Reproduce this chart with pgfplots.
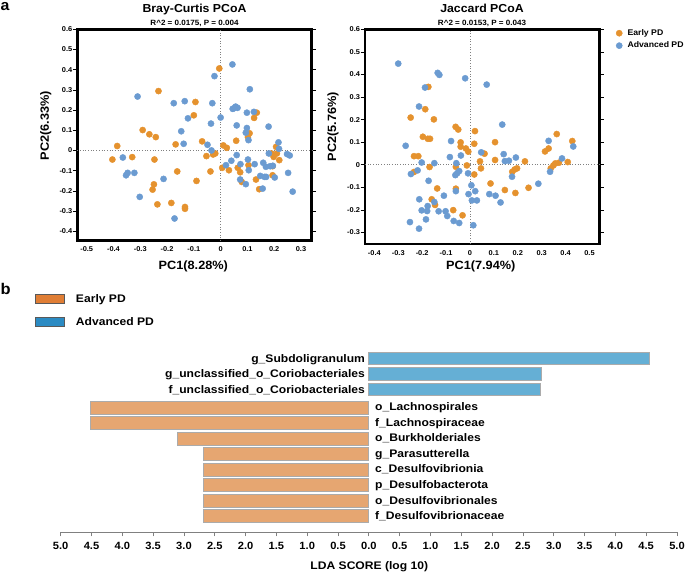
\documentclass[border=0pt]{standalone}
\usepackage{fontspec}
\setmainfont{Liberation Sans}[FakeStretch=1.06]
\newfontfamily\wideb{Liberation Sans}[FakeStretch=1.1]
\usepackage{pgfplots}
\pgfplotsset{compat=1.18}

\definecolor{ptOrange}{HTML}{E5922E}
\definecolor{ptBlue}{HTML}{6B9BD1}
\definecolor{barOrange}{HTML}{E6A671}
\definecolor{barBlue}{HTML}{65AFD5}
\definecolor{barEdge}{HTML}{ABABAB}
\definecolor{legOrange}{HTML}{E07E35}
\definecolor{legBlue}{HTML}{2B8BC3}

\newcommand\fs[1]{\fontsize{#1}{#1}\selectfont\bfseries}

\pgfplotsset{
  pcoa/.style={
    scale only axis, anchor=south west,
    axis line style={line width=2.6bp, black},
    tick align=outside, major tick length=4.5bp,
    xtick style={draw=none},
    ytick style={black, line width=0.6bp},
    tick label style={font=\fs{7bp}},
    xticklabel style={inner ysep=0pt, yshift=-1.5bp},
    yticklabel style={inner xsep=0.3bp},
    label style={font=\fs{12bp}},
    ylabel style={anchor=center},
    xlabel style={anchor=center},
    clip=false,
  },
  dots/.style={only marks, mark=*, mark size=3.1bp, color=#1,
    mark options={draw=#1, fill=#1}},
}

\begin{document}
\begin{tikzpicture}
\path[use as bounding box] (0bp,0bp) rectangle (685bp,574bp);

% ---- a: Bray-Curtis
\begin{axis}[pcoa,
  at={(77.3bp,333.3bp)}, width=234.4bp, height=211.4bp,
  xmin=-0.535, xmax=0.340, ymin=-0.447, ymax=0.6,
  xtick={-0.5,-0.4,-0.3,-0.2,-0.1,0,0.1,0.2,0.3},
  xticklabels={-0.5,-0.4,-0.3,-0.2,-0.1,0,0.1,0.2,0.3},
  ytick={-0.4,-0.3,-0.2,-0.1,0,0.1,0.2,0.3,0.4,0.5,0.6},
  yticklabels={-0.4,-0.3,-0.2,-0.1,0,0.1,0.2,0.3,0.4,0.5,0.6},
  xlabel={PC1(8.28\%)}, ylabel={PC2(6.33\%)},
  xlabel style={at={(axis description cs:0.495,-0.123)}},
  ylabel style={at={(axis description cs:-0.134,0.5435)}},
]
\addplot[forget plot, gray, dotted, line width=0.7bp] coordinates {(0,-0.447) (0,0.6)};
\addplot[forget plot, gray, dotted, line width=0.7bp] coordinates {(-0.535,0) (0.340,0)};
\addplot[dots=ptOrange] coordinates {
(-0.005,0.406) (-0.232,0.294) (-0.094,0.240) (-0.100,0.174) (0.135,0.187) (0.125,0.161)
(-0.291,0.101) (-0.266,0.080) (-0.242,0.066) (0.108,0.085) (0.102,0.066) (-0.386,0.022)
(-0.168,0.030) (-0.069,0.045) (0.058,0.048) (0.010,0.025) (0.023,0.013) (0.207,0.018)
(-0.404,-0.045) (-0.330,-0.033) (-0.247,-0.045) (-0.053,-0.028) (-0.028,-0.020) (-0.020,-0.015)
(0.190,-0.015) (0.210,-0.015) (0.198,-0.032) (0.219,-0.048) (0.104,-0.073) (0.006,-0.086)
(0.031,-0.098) (0.064,-0.086) (0.073,-0.108) (0.194,-0.078) (-0.162,-0.104) (-0.038,-0.104)
(-0.090,-0.151) (0.079,-0.156) (0.132,-0.144) (0.194,-0.123) (-0.249,-0.168) (-0.254,-0.194)
(0.144,-0.192) (-0.236,-0.267) (-0.184,-0.260) (-0.133,-0.280) (-0.133,-0.289)
};
\addplot[dots=ptBlue] coordinates {
(0.044,0.426) (-0.023,0.368) (0.109,0.303) (-0.310,0.267) (-0.175,0.234) (-0.134,0.244)
(-0.031,0.234) (0.045,0.206) (0.056,0.217) (0.063,0.211) (0.050,0.209) (0.098,0.187)
(0.124,0.191) (-0.122,0.159) (0.000,0.163) (-0.036,0.133) (0.060,0.124) (0.098,0.111)
(0.179,0.118) (-0.147,0.095) (0.094,0.088) (0.104,0.051) (-0.138,0.033) (-0.049,0.028)
(0.216,0.040) (0.218,0.008) (-0.034,0.000) (0.180,-0.015) (0.248,-0.018) (0.258,-0.025)
(0.060,-0.023) (-0.365,-0.035) (0.040,-0.051) (0.102,-0.045) (0.020,-0.073) (0.074,-0.068)
(0.127,-0.068) (0.159,-0.061) (0.169,-0.081) (0.185,-0.078) (0.195,-0.076) (0.105,-0.098)
(-0.353,-0.123) (-0.347,-0.111) (-0.322,-0.111) (0.252,-0.111) (0.148,-0.126) (0.164,-0.131)
(0.170,-0.131) (0.202,-0.134) (0.073,-0.144) (0.094,-0.167) (-0.213,-0.141) (0.157,-0.189)
(0.269,-0.204) (-0.302,-0.230) (-0.172,-0.337)
};
\end{axis}

% ---- a: Jaccard
\begin{axis}[pcoa,
  at={(365bp,330bp)}, width=234.3bp, height=214.7bp,
  xmin=-0.439, xmax=0.541, ymin=-0.351, ymax=0.6,
  xtick={-0.4,-0.3,-0.2,-0.1,0,0.1,0.2,0.3,0.4,0.5},
  xticklabels={-0.4,-0.3,-0.2,-0.1,0,0.1,0.2,0.3,0.4,0.5},
  ytick={-0.3,-0.2,-0.1,0,0.1,0.2,0.3,0.4,0.5,0.6},
  yticklabels={-0.3,-0.2,-0.1,0,0.1,0.2,0.3,0.4,0.5,0.6},
  xlabel={PC1(7.94\%)}, ylabel={PC2(5.76\%)},
  xlabel style={at={(axis description cs:0.494,-0.106)}},
  ylabel style={at={(axis description cs:-0.1366,0.546)}},
  legend style={at={(1.071,1.0)}, anchor=north west, draw=none, fill=none,
    inner sep=0pt, font=\fs{8.2bp}, row sep=5bp,
    nodes={inner sep=0pt},
    /tikz/every odd column/.append style={column sep=5.2bp}},
  legend cell align=left,
  legend image code/.code={\draw[#1] plot coordinates {(0bp,0bp)};},
]
\addplot[forget plot, gray, dotted, line width=0.7bp] coordinates {(0,-0.351) (0,0.6)};
\addplot[forget plot, gray, dotted, line width=0.7bp] coordinates {(-0.439,0) (0.541,0)};
\addplot[dots=ptOrange] coordinates {
(-0.174,0.345) (-0.187,0.246) (-0.248,0.209) (-0.151,0.201) (-0.060,0.168) (-0.049,0.156)
(0.021,0.149) (-0.197,0.124) (-0.176,0.115) (-0.167,0.115) (-0.039,0.099) (0.018,0.093)
(0.105,0.100) (0.363,0.136) (0.428,0.105) (-0.039,0.080) (-0.017,0.072) (-0.007,0.058)
(0.314,0.059) (0.329,0.072) (-0.234,0.038) (-0.216,0.038) (0.061,0.049) (0.105,0.021)
(0.042,0.015) (0.230,0.015) (0.409,0.012) (0.357,0.006) (0.372,0.009) (0.349,-0.003)
(-0.169,-0.010) (-0.059,-0.009) (-0.013,-0.003) (0.046,-0.016) (0.338,-0.016) (-0.234,-0.032)
(0.177,-0.031) (0.187,-0.021) (0.197,-0.016) (0.018,-0.043) (0.086,-0.083) (-0.137,-0.105)
(-0.059,-0.106) (0.146,-0.112) (0.245,-0.102) (0.190,-0.125) (-0.160,-0.153) (-0.146,-0.178)
(-0.070,-0.201) (-0.031,-0.224)
};
\addlegendentry{Early PD}
\addplot[dots=ptBlue] coordinates {
(-0.300,0.448) (-0.135,0.407) (-0.128,0.398) (-0.020,0.383) (0.070,0.355) (-0.188,0.342)
(-0.213,0.258) (0.135,0.178) (-0.269,0.084) (-0.079,0.105) (0.329,0.106) (0.432,0.081)
(0.047,0.055) (0.141,0.047) (-0.084,0.034) (-0.038,0.041) (0.192,0.032) (0.385,0.028)
(-0.202,0.010) (-0.149,0.007) (-0.057,0.007) (0.146,0.016) (0.163,0.018) (-0.247,-0.041)
(-0.219,-0.025) (-0.061,-0.046) (-0.053,-0.037) (-0.045,-0.028) (-0.008,-0.038) (0.335,-0.031)
(0.176,-0.053) (-0.173,-0.071) (0.006,-0.091) (0.286,-0.084) (-0.059,-0.117) (0.022,-0.117)
(-0.109,-0.137) (-0.006,-0.130) (0.081,-0.130) (0.107,-0.137) (-0.212,-0.153) (-0.149,-0.165)
(0.008,-0.158) (0.029,-0.158) (0.128,-0.167) (-0.177,-0.183) (-0.202,-0.202) (-0.179,-0.205)
(-0.131,-0.206) (-0.102,-0.206) (-0.095,-0.227) (-0.184,-0.242) (-0.251,-0.254) (-0.068,-0.249)
(-0.045,-0.258) (0.014,-0.268) (-0.213,-0.283)
};
\addlegendentry{Advanced PD}
\end{axis}

% ---- titles and panel letters
\node[anchor=base west, inner sep=0pt, font=\fs{15bp}] at (0.5bp,563bp) {a};
\node[anchor=base west, inner sep=0pt, font=\fs{15.5bp}] at (0.5bp,279bp) {b};
\node[anchor=base, inner sep=0pt, font=\fs{11.6bp}] at (194.5bp,561bp) {Bray-Curtis PCoA};
\node[anchor=base, inner sep=0pt, font=\fs{7.6bp}] at (194.5bp,548.5bp) {R\textasciicircum 2 = 0.0175, P = 0.004};
\node[anchor=base, inner sep=0pt, font=\fs{11.6bp}] at (482bp,561bp) {Jaccard PCoA};
\node[anchor=base, inner sep=0pt, font=\fs{7.6bp}] at (482bp,548.5bp) {R\textasciicircum 2 = 0.0153, P = 0.043};

% ---- b: LDA scores
\begin{axis}[
  at={(60.7bp,42bp)}, anchor=south west, scale only axis,
  width=616.3bp, height=183bp,
  xmin=-5, xmax=5, ymin=-532, ymax=-349,
  axis x line*=bottom, axis y line=none,
  x axis line style={draw=gray, line width=0.8bp},
  tick align=outside, major tick length=4.3bp,
  xtick style={draw=gray, line width=0.8bp},
  xtick={-5,-4.5,-4,-3.5,-3,-2.5,-2,-1.5,-1,-0.5,0,0.5,1,1.5,2,2.5,3,3.5,4,4.5,5},
  xticklabels={5.0,4.5,4.0,3.5,3.0,2.5,2.0,1.5,1.0,0.5,0.0,0.5,1.0,1.5,2.0,2.5,3.0,3.5,4.0,4.5,5.0},
  xticklabel style={font=\fs{10.5bp}, inner ysep=0pt, yshift=-5.4bp},
  xlabel={LDA SCORE (log 10)},
  xlabel style={font=\wideb\fs{11bp}, anchor=center, at={(axis description cs:0.5007,-0.19)}},
  clip=false,
  legend style={at={(-0.0417,1.303)}, anchor=north west, draw=none, fill=none,
    inner sep=0pt, font=\wideb\fs{11bp}, row sep=13.3bp,
    nodes={inner sep=0pt},
    /tikz/every odd column/.append style={column sep=11bp}},
  legend cell align=left,
  legend image code/.code={\draw[#1] (0bp,-4.65bp) rectangle (29bp,4.65bp);},
]
\addlegendimage{fill=legOrange, draw=black!65, line width=0.8bp}
\addlegendentry{Early PD}
\addlegendimage{fill=legBlue, draw=black!65, line width=0.8bp}
\addlegendentry{Advanced PD}
\addplot[forget plot, xbar, bar width=12.8, bar shift=0pt, fill=barBlue, draw=barEdge, line width=0.8bp]
  coordinates {(4.56,-358.5) (2.80,-374) (2.78,-389.5)};
\addplot[forget plot, xbar, bar width=12.8, bar shift=0pt, fill=barOrange, draw=barEdge, line width=0.8bp]
  coordinates {(-4.51,-408) (-4.51,-423) (-3.11,-438.7) (-2.69,-454.2) (-2.69,-469.7)
               (-2.69,-485.3) (-2.69,-500.8) (-2.69,-516.3)};
\begin{scope}[every node/.style={inner sep=0pt, font=\wideb\fs{11bp}}]
\node[anchor=base east] at (axis cs:-0.06,-362.5) {g\_Subdoligranulum};
\node[anchor=base east] at (axis cs:-0.06,-378) {g\_unclassified\_o\_Coriobacteriales};
\node[anchor=base east] at (axis cs:-0.06,-393.5) {f\_unclassified\_o\_Coriobacteriales};
\node[anchor=base west] at (axis cs:0.1,-411) {o\_Lachnospirales};
\node[anchor=base west] at (axis cs:0.1,-426.5) {f\_Lachnospiraceae};
\node[anchor=base west] at (axis cs:0.1,-442) {o\_Burkholderiales};
\node[anchor=base west] at (axis cs:0.1,-457.5) {g\_Parasutterella};
\node[anchor=base west] at (axis cs:0.1,-473) {c\_Desulfovibrionia};
\node[anchor=base west] at (axis cs:0.1,-488.5) {p\_Desulfobacterota};
\node[anchor=base west] at (axis cs:0.1,-504) {o\_Desulfovibrionales};
\node[anchor=base west] at (axis cs:0.1,-519.5) {f\_Desulfovibrionaceae};
\end{scope}
\end{axis}
\end{tikzpicture}
\end{document}
